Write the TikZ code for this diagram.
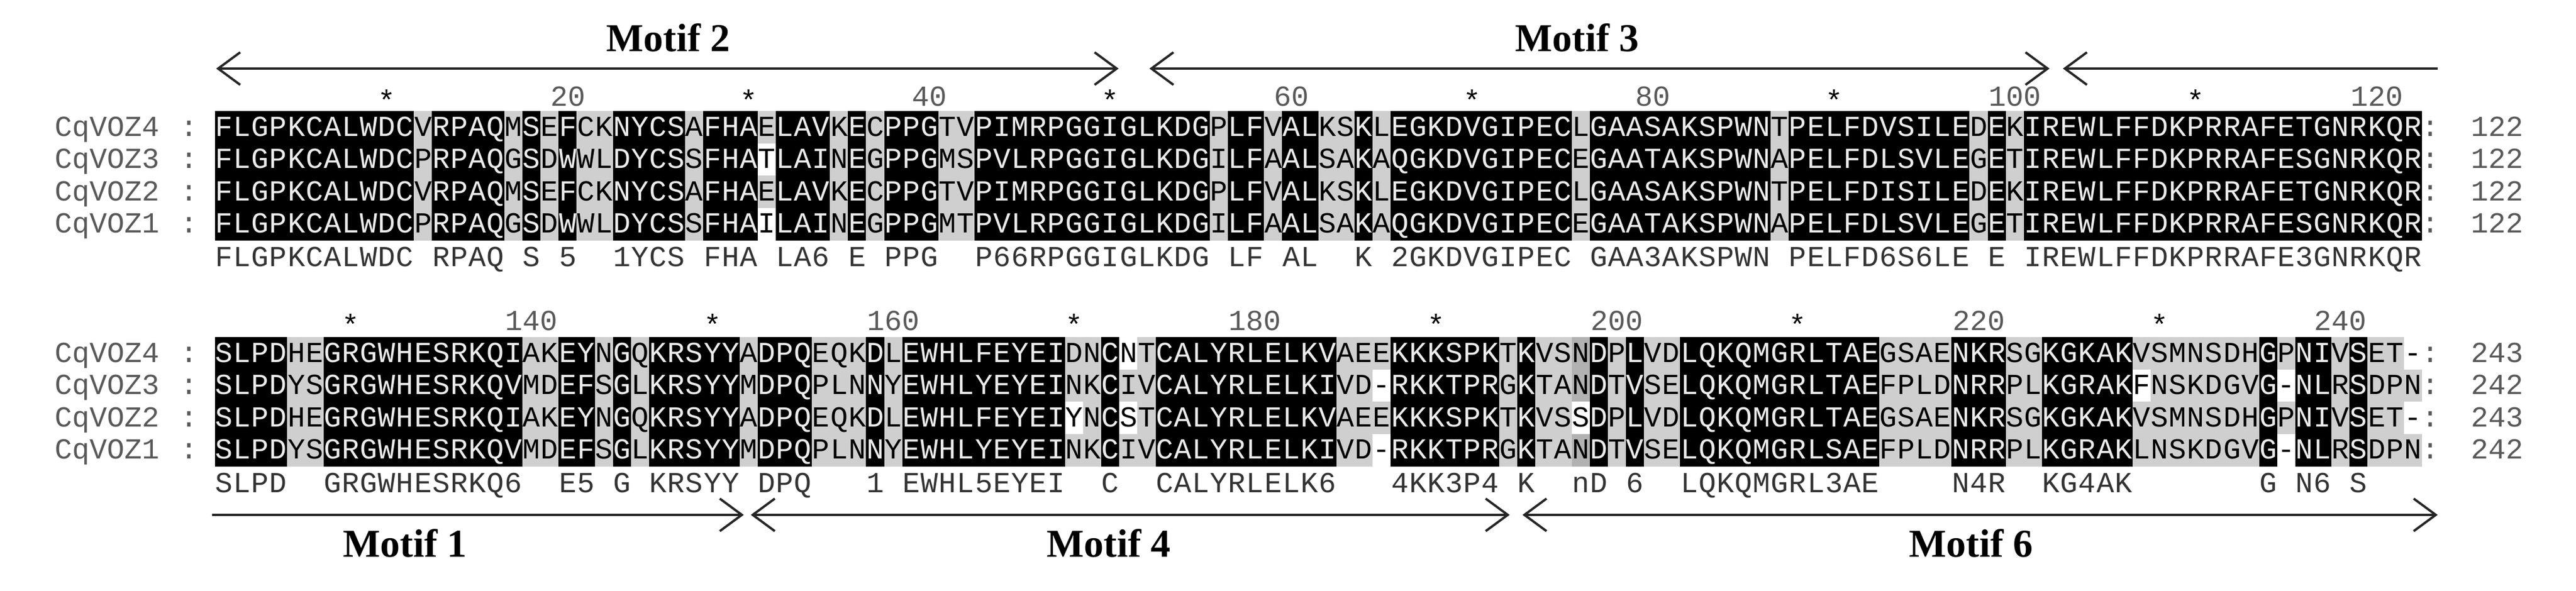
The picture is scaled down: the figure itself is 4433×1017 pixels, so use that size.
\documentclass[tikz,border=0pt]{standalone}
\usepackage{fontspec}
\setmainfont{Liberation Serif}
\newfontfamily\seqfont{Liberation Mono}
\usetikzlibrary{arrows.meta}
\tikzset{
  seqtxt/.style={font=\seqfont\fontsize{50}{50}\selectfont, inner sep=0pt, anchor=base},
  lbltxt/.style={font=\seqfont\fontsize{50}{50}\selectfont, inner sep=0pt, anchor=base, text=black!65},
  motiflbl/.style={font=\bfseries\fontsize{68}{68}\selectfont, inner sep=0pt, anchor=base},
  motifarrow/.style={line width=4.5pt, black!85},
  barb/.tip={Straight Barb[length=38pt,width=56pt,line width=4pt]}
}
\newcommand\mycell[5]{%
  \fill[#3] ({#1-15.8},{-#2+28}) rectangle ({#1+15.8},{-#2-28});
  \node[seqtxt,text=#4] at (#1,{-#2-15}) {#5};}
\newcommand\mycons[3]{\node[seqtxt,text=black!80] at (#1,{-#2-15}) {#3};}
\ExplSyntaxOn
\int_step_inline:nn {4}
 { \tl_new:c {l_my_c#1_tl} \tl_new:c {l_my_g#1_tl} \tl_new:c {l_my_f#1_tl} \tl_new:c {l_my_t#1_tl} }
\tl_new:N \l_my_cons_tl
\int_new:N \l_my_s_int
\int_new:N \l_my_gs_int
\int_new:N \l_my_max_int
\tl_new:N \l_my_x_tl
\cs_new:Npn \my_grp:n #1 {\str_case:nnF {#1} {{D}{1}{N}{1}{E}{2}{Q}{2}{S}{3}{T}{3}{K}{4}{R}{4}{F}{5}{Y}{5}{W}{5}{L}{6}{I}{6}{V}{6}{M}{6}} {#1}}
\cs_generate_variant:Nn \my_grp:n {e}
\cs_new:Npn \my_eq:nnn #1#2#3 {\str_if_eq:eeTF {\tl_use:c{l_my_#3#1_tl}} {\tl_use:c{l_my_#3#2_tl}} {1}{0}}
\cs_new:Npn \my_cnt:nn #1#2 { (\my_eq:nnn{#1}{1}{#2}+\my_eq:nnn{#1}{2}{#2}+\my_eq:nnn{#1}{3}{#2}+\my_eq:nnn{#1}{4}{#2}-1) }
\cs_new_protected:Npn \my_block:nnnnnnn #1#2#3#4#5#6#7
 {
  \int_step_inline:nn {#6}
   {
    \tl_set:cx {l_my_c1_tl} {\str_item:nn {#2} {##1}}
    \tl_set:cx {l_my_c2_tl} {\str_item:nn {#3} {##1}}
    \tl_set:cx {l_my_c3_tl} {\str_item:nn {#4} {##1}}
    \tl_set:cx {l_my_c4_tl} {\str_item:nn {#5} {##1}}
    \int_step_inline:nn {4} { \tl_set:cx {l_my_g####1_tl} { \my_grp:e {\tl_use:c {l_my_c####1_tl}} } }
    \int_set:Nn \l_my_s_int {\my_cnt:nn{1}{c}}
    \int_set:Nn \l_my_gs_int {\my_cnt:nn{1}{g}}
    \int_set:Nn \l_my_max_int {\int_max:nn {\int_max:nn {\my_cnt:nn{1}{c}} {\my_cnt:nn{2}{c}}} {\int_max:nn {\my_cnt:nn{3}{c}} {\my_cnt:nn{4}{c}}}}
    \tl_clear:N \l_my_cons_tl
    \bool_if:nTF { (\int_compare_p:n {\l_my_s_int = 3} || \int_compare_p:n {\l_my_gs_int = 3}) && ! \str_if_eq_p:ee {\tl_use:c{l_my_c1_tl}} {-} }
     {
      \int_step_inline:nn {4} { \tl_set:cn {l_my_f####1_tl} {black} \tl_set:cn {l_my_t####1_tl} {white!92!black} }
      \int_compare:nNnTF {\l_my_s_int} = {3}
       { \tl_set:Nx \l_my_cons_tl {\tl_use:c{l_my_c1_tl}} }
       { \tl_set:Nx \l_my_cons_tl {\tl_use:c{l_my_g1_tl}} }
     }
     {
      \int_compare:nNnTF {\l_my_max_int} = {2}
       {
        \int_step_inline:nn {4}
         {
          \tl_set:cn {l_my_t####1_tl} {black}
          \int_compare:nNnTF {\my_cnt:nn{####1}{c}} = {2}
           { \tl_set:cn {l_my_f####1_tl} {gray!60} \tl_set:Nx \l_my_cons_tl {\str_lowercase:f {\tl_use:c{l_my_c####1_tl}}} }
           { \tl_set:cn {l_my_f####1_tl} {white} }
         }
       }
       {
        \int_step_inline:nn {4}
         {
          \tl_set:cn {l_my_t####1_tl} {black}
          \bool_if:nTF { \int_compare_p:n {\my_cnt:nn{####1}{g} > 0} && ! \str_if_eq_p:ee {\tl_use:c{l_my_c####1_tl}} {-} }
           { \tl_set:cn {l_my_f####1_tl} {gray!38} }
           { \tl_set:cn {l_my_f####1_tl} {white} }
         }
       }
     }
    \tl_set:Nx \l_my_x_tl {\fp_eval:n {370 + (##1-0.5)*31.13}}
    \int_step_inline:nn {4}
     {
      \mycell{\l_my_x_tl}{\fp_eval:n {#1 + (####1-1)*55.5}}{\tl_use:c{l_my_f####1_tl}}{\tl_use:c{l_my_t####1_tl}}{\tl_use:c{l_my_c####1_tl}}
     }
    \tl_if_empty:NF \l_my_cons_tl { \mycons{\l_my_x_tl}{#7}{\l_my_cons_tl} }
   }
 }
\NewDocumentCommand \DrawBlock {mmmmmmm} { \my_block:nnnnnnn {#1}{#2}{#3}{#4}{#5}{#6}{#7} }
\ExplSyntaxOff
\begin{document}
\begin{tikzpicture}[x=1pt,y=1pt]
\useasboundingbox (0,0) rectangle (4433,-1017);
\fill[white] (0,0) rectangle (4433,-1017);
% ---- block 1
\DrawBlock{219}
 {FLGPKCALWDCVRPAQMSEFCKNYCSAFHAELAVKECPPGTVPIMRPGGIGLKDGPLFVALKSKLEGKDVGIPECLGAASAKSPWNTPELFDVSILEDEKIREWLFFDKPRRAFETGNRKQR}
 {FLGPKCALWDCPRPAQGSDWWLDYCSSFHATLAINEGPPGMSPVLRPGGIGLKDGILFAALSAKAQGKDVGIPECEGAATAKSPWNAPELFDLSVLEGETIREWLFFDKPRRAFESGNRKQR}
 {FLGPKCALWDCVRPAQMSEFCKNYCSAFHAELAVKECPPGTVPIMRPGGIGLKDGPLFVALKSKLEGKDVGIPECLGAASAKSPWNTPELFDISILEDEKIREWLFFDKPRRAFETGNRKQR}
 {FLGPKCALWDCPRPAQGSDWWLDYCSSFHAILAINEGPPGMTPVLRPGGIGLKDGILFAALSAKAQGKDVGIPECEGAATAKSPWNAPELFDLSVLEGETIREWLFFDKPRRAFESGNRKQR}
 {122}{443}
% ---- block 2
\DrawBlock{608}
 {SLPDHEGRGWHESRKQIAKEYNGQKRSYYADPQEQKDLEWHLFEYEIDNCNTCALYRLELKVAEEKKKSPKTKVSNDPLVDLQKQMGRLTAEGSAENKRSGKGKAKVSMNSDHGPNIVSET-}
 {SLPDYSGRGWHESRKQVMDEFSGLKRSYYMDPQPLNNYEWHLYEYEINKCIVCALYRLELKIVD-RKKTPRGKTANDTVSELQKQMGRLTAEFPLDNRRPLKGRAKFNSKDGVG-NLRSDPN}
 {SLPDHEGRGWHESRKQIAKEYNGQKRSYYADPQEQKDLEWHLFEYEIYNCSTCALYRLELKVAEEKKKSPKTKVSSDPLVDLQKQMGRLTAEGSAENKRSGKGKAKVSMNSDHGPNIVSET-}
 {SLPDYSGRGWHESRKQVMDEFSGLKRSYYMDPQPLNNYEWHLYEYEINKCIVCALYRLELKIVD-RKKTPRGKTANDTVSELQKQMGRLSAEFPLDNRRPLKGRAKLNSKDGVG-NLRSDPN}
 {122}{832}
% ---- names and lengths
\foreach \nm/\k/\la/\lb in {CqVOZ4/1/122/243, CqVOZ3/2/122/242, CqVOZ2/3/122/243, CqVOZ1/4/122/242}{
  \node[lbltxt,anchor=base west] (nA\k) at (94,{-219-(\k-1)*55.5-15}) {\nm};
  \node[lbltxt] (cA\k) at (325,{-219-(\k-1)*55.5-15}) {:};
  \node[lbltxt] (eA\k) at (4182,{-219-(\k-1)*55.5-15}) {:};
  \node[lbltxt,anchor=base west] (lA\k) at (4252,{-219-(\k-1)*55.5-15}) {\la};
  \node[lbltxt,anchor=base west] (nB\k) at (94,{-608-(\k-1)*55.5-15}) {\nm};
  \node[lbltxt] (cB\k) at (325,{-608-(\k-1)*55.5-15}) {:};
  \node[lbltxt] (eB\k) at (4182,{-608-(\k-1)*55.5-15}) {:};
  \node[lbltxt,anchor=base west] (lB\k) at (4252,{-608-(\k-1)*55.5-15}) {\lb};
}
% ---- ruler numbers and stars
\foreach \c in {10,30,50,70,90,110}{\node[lbltxt,text=black] (sA\c) at ({370+(\c-0.5)*31.13},-190) {*};}
\foreach \c in {20,40,60,80,100,120}{\node[lbltxt] (rA\c) at ({370+(\c-0.5)*31.13},-182) {\c};}
\foreach \c in {8,28,48,68,88,108}{\node[lbltxt,text=black] (sB\c) at ({370+(\c-0.5)*31.13},-576) {*};}
\foreach \c/\v in {18/140,38/160,58/180,78/200,98/220,118/240}{\node[lbltxt] (rB\c) at ({370+(\c-0.5)*31.13},-568) {\v};}
% ---- motif arrows
\coordinate (m2a) at (372,-118); \coordinate (m2b) at (1925,-118);
\coordinate (m3a) at (1978,-118); \coordinate (m3b) at (3527,-118);
\coordinate (m7a) at (3550,-118); \coordinate (m7b) at (4195,-118);
\draw[motifarrow,{barb}-{barb}] (m2a) -- (m2b);
\draw[motifarrow,{barb}-{barb}] (m3a) -- (m3b);
\draw[motifarrow,{barb}-] (m7a) -- (m7b);
\node[motiflbl] (L2) at (1150,-88) {Motif 2};
\node[motiflbl] (L3) at (2714,-88) {Motif 3};
\coordinate (m1a) at (365,-886); \coordinate (m1b) at (1280,-886);
\coordinate (m4a) at (1292,-886); \coordinate (m4b) at (2598,-886);
\coordinate (m6a) at (2620,-886); \coordinate (m6b) at (4195,-886);
\draw[motifarrow,-{barb}] (m1a) -- (m1b);
\draw[motifarrow,{barb}-{barb}] (m4a) -- (m4b);
\draw[motifarrow,{barb}-{barb}] (m6a) -- (m6b);
\node[motiflbl] (L1) at (697,-958) {Motif 1};
\node[motiflbl] (L4) at (1908,-958) {Motif 4};
\node[motiflbl] (L6) at (3392,-958) {Motif 6};
\end{tikzpicture}
\end{document}
